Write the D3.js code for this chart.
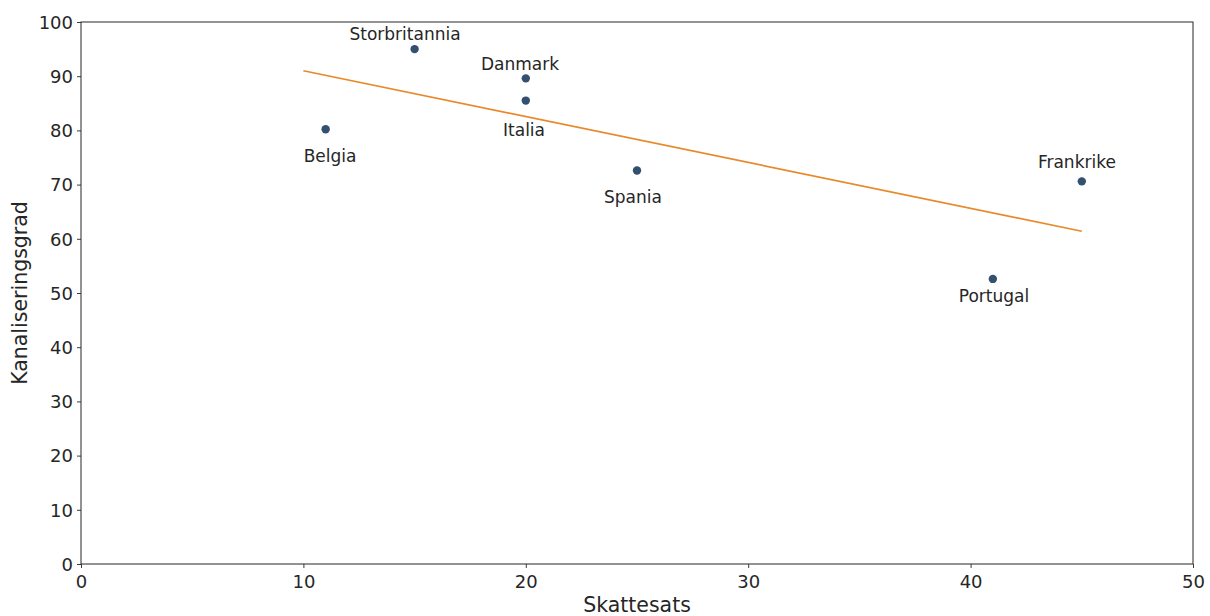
<!DOCTYPE html>
<html>
<head>
<meta charset="utf-8">
<script src="https://cdn.jsdelivr.net/npm/d3@7"></script>
<style>
  html, body { margin: 0; padding: 0; background: #fff; }
  svg { display: block; font-family: "DejaVu Sans", sans-serif; }
</style>
</head>
<body>
<svg id="chart" width="1210" height="616"></svg>
<script>
// Countries with tax rate (Skattesats) and channelling degree (Kanaliseringsgrad)
const countries = ["Belgia", "Storbritannia", "Danmark", "Italia", "Spania", "Frankrike", "Portugal"];
const taxRate = [11, 15, 20, 20, 25, 45, 41];
const channelling = [80.2, 95.0, 89.6, 85.5, 72.6, 70.6, 52.6];
// Label anchor (centre, baseline) in data units
const labelX = [11.2, 14.57, 19.74, 19.92, 24.82, 44.78, 41.05];
const labelY = [74.1, 96.7, 91.1, 79.0, 66.6, 73.1, 48.3];
// Fitted trend line end points
const trendX = [10, 45];
const trendY = [91.0, 61.4];
const xTicks = [0, 10, 20, 30, 40, 50];
const yTicks = [0, 10, 20, 30, 40, 50, 60, 70, 80, 90, 100];

const svg = d3.select("#chart");
const m = { left: 81, right: 1193, top: 22, bottom: 564 };

const x = d3.scaleLinear().domain([0, 50]).range([m.left, m.right]);
const y = d3.scaleLinear().domain([0, 100]).range([m.bottom, m.top]);

const ink = "#262626";

// Axes
const xAxis = svg.append("g")
  .attr("transform", `translate(0,${m.bottom})`)
  .call(d3.axisBottom(x).tickValues(xTicks).tickFormat(d3.format("d")).tickSize(4).tickPadding(3));
const yAxis = svg.append("g")
  .attr("transform", `translate(${m.left},0)`)
  .call(d3.axisLeft(y).tickValues(yTicks).tickFormat(d3.format("d")).tickSize(4).tickPadding(4));
[xAxis, yAxis].forEach(g => {
  g.select(".domain").remove();
  g.selectAll(".tick line").attr("stroke", ink).attr("stroke-width", 0.9);
  g.selectAll(".tick text").attr("fill", ink).style("font-size", "18px").style("font-family", "DejaVu Sans");
});
xAxis.selectAll(".tick text").attr("dy", "0.95em");
yAxis.selectAll(".tick text").attr("dy", "0.35em");

// Frame
svg.append("rect")
  .attr("x", m.left).attr("y", m.top)
  .attr("width", m.right - m.left).attr("height", m.bottom - m.top)
  .attr("fill", "none").attr("stroke", ink).attr("stroke-width", 1);

// Trend line
svg.append("line")
  .attr("x1", x(trendX[0])).attr("y1", y(trendY[0]))
  .attr("x2", x(trendX[1])).attr("y2", y(trendY[1]))
  .attr("stroke", "#e8892a").attr("stroke-width", 1.7);

// Points
svg.append("g").selectAll("circle")
  .data(countries)
  .join("circle")
  .attr("cx", (d, i) => x(taxRate[i]))
  .attr("cy", (d, i) => y(channelling[i]))
  .attr("r", 4.2)
  .attr("fill", "#34506f");

// Country labels
svg.append("g").selectAll("text")
  .data(countries)
  .join("text")
  .attr("x", (d, i) => x(labelX[i]))
  .attr("y", (d, i) => y(labelY[i]))
  .attr("text-anchor", "middle")
  .attr("fill", ink)
  .style("font-size", "17px")
  .text(d => d);

// Axis titles
svg.append("text")
  .attr("x", (m.left + m.right) / 2)
  .attr("y", 612)
  .attr("text-anchor", "middle")
  .attr("fill", ink)
  .style("font-size", "20.5px")
  .text("Skattesats");
svg.append("text")
  .attr("transform", `translate(27,${(m.top + m.bottom) / 2}) rotate(-90)`)
  .attr("text-anchor", "middle")
  .attr("fill", ink)
  .style("font-size", "20.5px")
  .text("Kanaliseringsgrad");
</script>
</body>
</html>
